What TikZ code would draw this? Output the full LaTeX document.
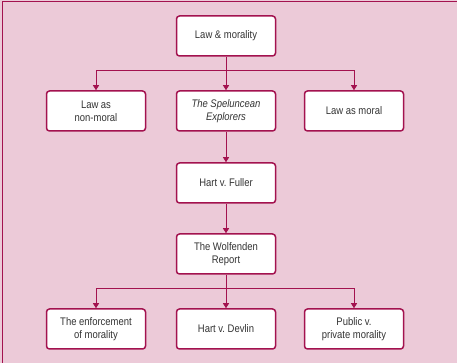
\documentclass[tikz,border=0pt]{standalone}
\usepackage{fontspec}
\setmainfont{Liberation Sans}[FakeStretch=0.86]
\usetikzlibrary{arrows.meta}
\definecolor{crimson}{HTML}{A3124F}
\definecolor{panel}{HTML}{ECCAD8}
\definecolor{ink}{HTML}{333333}
\frenchspacing
\tikzset{
  topic/.style={draw=crimson, line width=1.5pt, fill=white, rounded corners=3pt,
    minimum width=99pt, minimum height=40pt, inner sep=2pt, align=center,
    font=\fontsize{11}{13}\selectfont, text=ink},
  link/.style={draw=crimson, line width=1pt, -{Triangle[length=5pt,width=6pt]}},
  plain/.style={draw=crimson, line width=1pt}
}
\begin{document}
\begin{tikzpicture}[x=1pt,y=1pt]
  % panel background with top and left rule
  \fill[panel] (0,0) rectangle (457,363);
  \useasboundingbox (0,0) rectangle (457,363);
  \draw[crimson, line width=1.5pt] (2.5,0) -- (2.5,361.5) -- (457,361.5);

  % nodes
  \node[topic] (lm)   at (226,327) {Law \& morality};
  \node[topic] (nonm) at (96,252)  {Law as\\non-moral};
  \node[topic] (spel) at (226,252) {\itshape The Speluncean\\\itshape Explorers};
  \node[topic] (mor)  at (354,252) {Law as moral};
  \node[topic] (hf)   at (226,180) {Hart v. Fuller};
  \node[topic] (wr)   at (226,109) {The Wolfenden\\Report};
  \node[topic] (enf)  at (96,34)   {The enforcement\\of morality};
  \node[topic] (hd)   at (226,34)  {Hart v. Devlin};
  \node[topic] (pub)  at (354,34)  {Public v.\\private morality};

  % branch junctions
  \coordinate (j1) at (226,292);
  \coordinate (j2) at (226,74);

  % connectors
  \draw[plain] (lm.south) -- (j1);
  \draw[link] (j1) -| (nonm.north);
  \draw[link] (j1) -| (mor.north);
  \draw[link] (j1) -- (spel.north);
  \draw[link] (spel.south) -- (hf.north);
  \draw[link] (hf.south) -- (wr.north);
  \draw[plain] (wr.south) -- (j2);
  \draw[link] (j2) -| (enf.north);
  \draw[link] (j2) -| (pub.north);
  \draw[link] (j2) -- (hd.north);
\end{tikzpicture}
\end{document}
